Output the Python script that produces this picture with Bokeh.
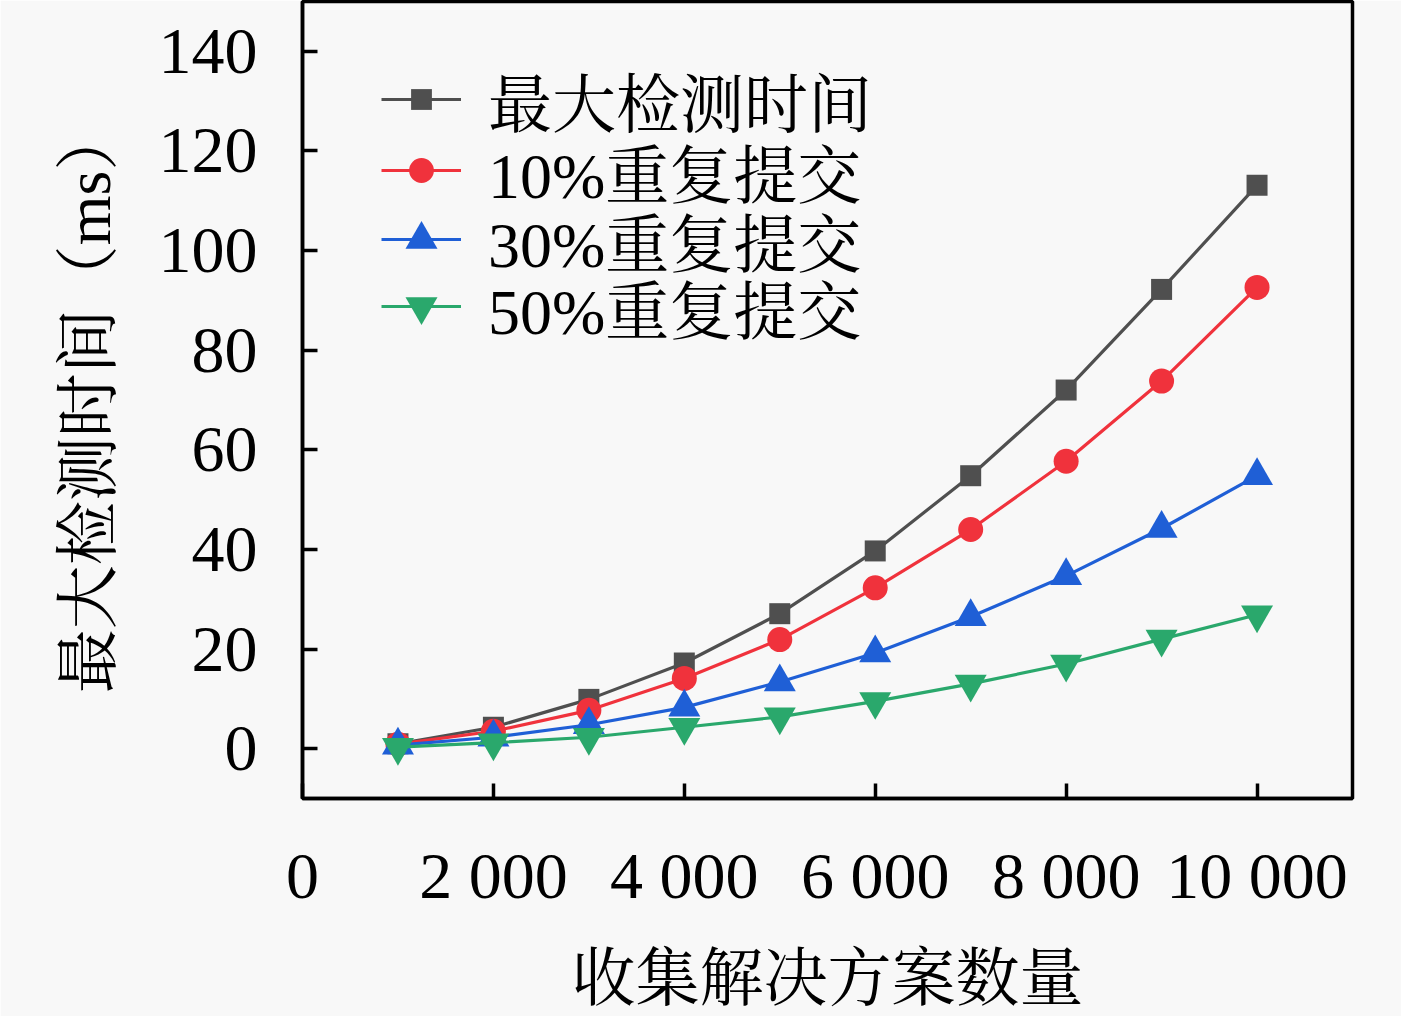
from bokeh.plotting import figure
from bokeh.models import FixedTicker, Range1d, Legend
from bokeh.embed import file_html
from bokeh.resources import INLINE

x_vals = [1000, 2000, 3000, 4000, 5000, 6000, 7000, 8000, 9000, 10000]
max_time = [1.0, 4.3, 9.9, 17.2, 27.1, 39.7, 54.8, 72.0, 92.2, 113.1]
dup10 = [0.9, 3.5, 7.7, 14.1, 21.9, 32.3, 44.0, 57.7, 73.8, 92.6]
dup30 = [0.7, 2.3, 4.8, 8.3, 13.4, 19.2, 26.5, 34.7, 44.2, 54.8]
dup50 = [0.3, 1.2, 2.3, 4.3, 6.4, 9.5, 13.0, 17.0, 22.0, 26.9]

series_names = ["最大检测时间", "10%重复提交", "30%重复提交", "50%重复提交"]
x_ticks = [0, 2000, 4000, 6000, 8000, 10000]
x_tick_labels = ["0", "2 000", "4 000", "6 000", "8 000", "10 000"]
y_ticks = [0, 20, 40, 60, 80, 100, 120, 140]

x_title = "收集解决方案数量"
y_title = "最大检测时间（ms）"

FONT = "Liberation Serif, Noto Serif CJK SC, Noto Sans CJK SC"
BG = "#f8f8f8"

p = figure(width=1401, height=1016, output_backend="svg", toolbar_location=None,
           x_range=Range1d(0, 11000), y_range=Range1d(-10, 150),
           min_border_left=302, min_border_right=49, min_border_top=1,
           min_border_bottom=201)
p.background_fill_color = BG
p.border_fill_color = BG
p.grid.visible = False
p.outline_line_color = "black"
p.outline_line_width = 3.5

colors = ["#4f4f4f", "#f0323c", "#1f5fd6", "#2aa86c"]
markers = ["square", "circle", "triangle", "inverted_triangle"]
sizes = [21, 25, 32, 32]
data = [max_time, dup10, dup30, dup50]
legend_bottoms = [653, 582, 513, 446]

for name, ys, c, m, s, lb in zip(series_names, data, colors, markers, sizes, legend_bottoms):
    r1 = p.line(x_vals, ys, line_color=c, line_width=3.2)
    r2 = p.scatter(x_vals, ys, marker=m, size=s, fill_color=c, line_color=None)
    lg = Legend(items=[(name, [r1, r2])], location=(79, lb))
    lg.background_fill_alpha = 0
    lg.border_line_color = None
    lg.label_text_font = FONT
    lg.label_text_font_size = "64px"
    lg.label_text_color = "black"
    lg.glyph_width = 80
    lg.glyph_height = int(round(s / 0.4))
    lg.label_standoff = 27
    lg.spacing = 0
    lg.padding = 0
    lg.margin = 0
    p.add_layout(lg)

for ax in (p.xaxis[0], p.yaxis[0]):
    ax.axis_line_color = "black"
    ax.axis_line_width = 3.5
    ax.major_tick_in = 15
    ax.major_tick_out = 0
    ax.minor_tick_in = 0
    ax.minor_tick_out = 0
    ax.major_tick_line_width = 3.5
    ax.major_label_text_font = FONT
    ax.major_label_text_font_size = "66px"
    ax.major_label_text_color = "black"
    ax.axis_label_text_font = FONT
    ax.axis_label_text_font_size = "64px"
    ax.axis_label_text_font_style = "normal"
    ax.axis_label_text_color = "black"

p.xaxis.ticker = FixedTicker(ticks=x_ticks)
p.xaxis.major_label_overrides = {t: l for t, l in zip(x_ticks, x_tick_labels)}
p.xaxis.major_label_standoff = 40
p.xaxis.axis_label = x_title
p.xaxis.axis_label_standoff = 28

p.yaxis.ticker = FixedTicker(ticks=y_ticks)
p.yaxis.major_label_standoff = 45
p.yaxis.axis_label = y_title
p.yaxis.axis_label_standoff = 32

open("out.html", "w").write(file_html(p, INLINE))
